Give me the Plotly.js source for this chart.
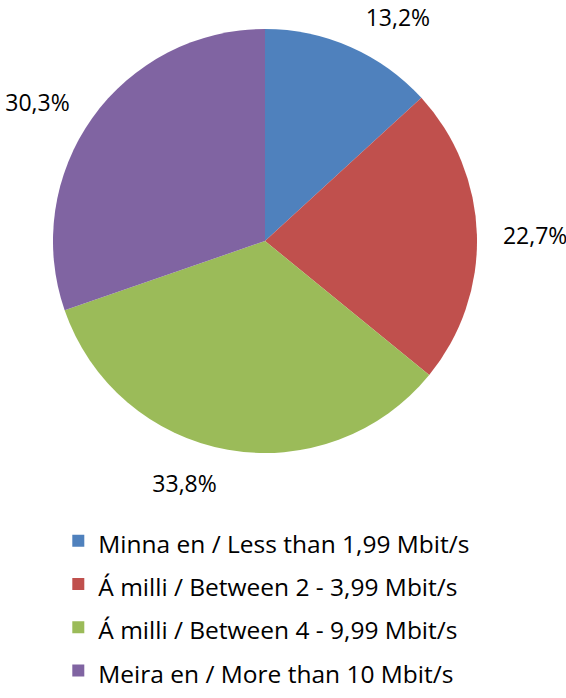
<!DOCTYPE html>
<html>
<head>
<meta charset="utf-8">
<script src="https://cdn.plot.ly/plotly-3.0.1.min.js"></script>
<style>html,body{margin:0;padding:0;background:#fff;}#chart{width:566px;height:698px;}</style>
</head>
<body>
<div id="chart"></div>
<script>
const categories = [
  "Minna en / Less than 1,99 Mbit/s",
  "Á milli / Between 2 - 3,99 Mbit/s",
  "Á milli / Between 4 - 9,99 Mbit/s",
  "Meira en / More than 10 Mbit/s"
];
const shares = [13.2, 22.7, 33.8, 30.3];
const sliceColors = ["#4F81BD", "#C0504D", "#9BBB59", "#8064A2"];

const FONT = "Open Sans, Liberation Sans, sans-serif";

// visible pie (slices + legend)
const pieTrace = {
  type: "pie",
  name: "pie",
  labels: categories.map(c => '<span style="font-size:24.5px">' + c + '</span>'),
  values: shares,
  sort: false,
  direction: "clockwise",
  rotation: 0,
  marker: { colors: sliceColors, line: { width: 0 } },
  textinfo: "none",
  hoverinfo: "label+percent",
  domain: { x: [0.0936, 0.8428], y: [0.351, 0.9585] }
};

// transparent, slightly larger pie that carries the percentage labels outside the slices
const labelTrace = {
  type: "pie",
  name: "labels",
  labels: categories,
  values: shares,
  sort: false,
  direction: "clockwise",
  rotation: 0,
  showlegend: false,
  marker: { colors: sliceColors.map(() => "rgba(0,0,0,0)"), line: { width: 0 } },
  textposition: "outside",
  texttemplate: "%{value:.1f}%",
  textfont: { family: FONT, size: 23, color: "#000" },
  outsidetextfont: { family: FONT, size: 23, color: "#000" },
  hoverinfo: "skip",
  domain: { x: [0.0618, 0.8746], y: [0.3252, 0.9842] }
};

const layout = {
  width: 566, height: 698,
  margin: { l: 0, r: 0, t: 0, b: 0 },
  paper_bgcolor: "#fff",
  separators: ", ",
  showlegend: true,
  legend: {
    x: 0.103, y: 0, xanchor: "left", yanchor: "bottom",
    font: { family: FONT, size: 31, color: "#000" },
    itemclick: false
  }
};

Plotly.newPlot("chart", [pieTrace, labelTrace], layout, { displayModeBar: false, staticPlot: true });
</script>
</body>
</html>
